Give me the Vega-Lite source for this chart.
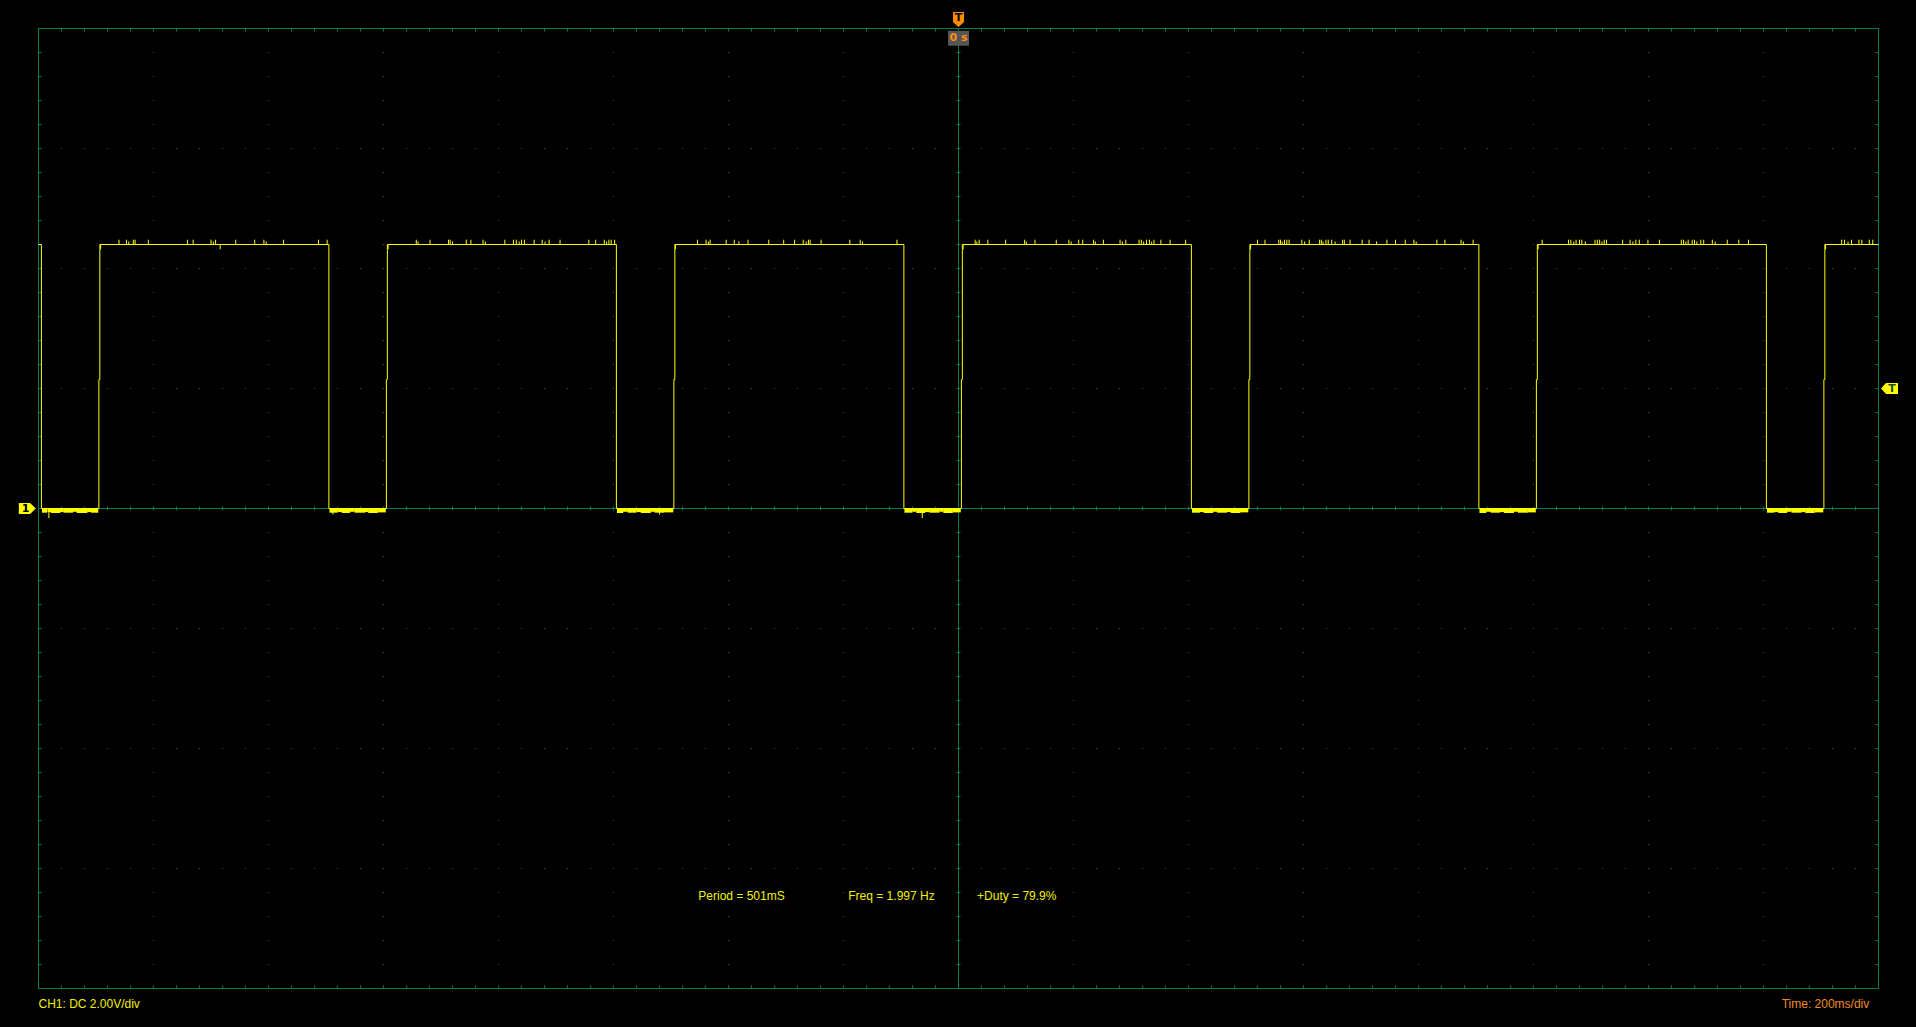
{
  "$schema": "https://vega.github.io/schema/vega-lite/v6.json",
  "width": 1840,
  "height": 960,
  "autosize": {"type": "none"},
  "padding": {"left": 38.5, "top": 28.5, "right": 37.5, "bottom": 38.5},
  "background": "#000000",
  "config": {
    "view": {"stroke": null},
    "axis": {"translate": 0, "domainColor": "#00795a", "tickColor": "#00795a", "gridColor": "#00795a", "domainWidth": 1, "tickWidth": 1, "gridWidth": 1, "gridOpacity": 1, "domainOpacity": 1, "tickOpacity": 1, "labels": false, "domainCap": "butt"}
  },
  "datasets": {
    "trace": [
      {"n":1,"t":-1.6,"v":4.4},{"n":2,"t":-1.595,"v":4.4},{"n":3,"t":-1.595,"v":0},{"n":4,"t":-1.495,"v":0},{"n":5,"t":-1.495,"v":2.15},{"n":6,"t":-1.4933,"v":2.15},{"n":7,"t":-1.4933,"v":4.4},
      {"n":8,"t":-1.095,"v":4.4},{"n":9,"t":-1.095,"v":0},{"n":10,"t":-0.995,"v":0},{"n":11,"t":-0.995,"v":2.15},{"n":12,"t":-0.9933,"v":2.15},{"n":13,"t":-0.9933,"v":4.4},
      {"n":14,"t":-0.595,"v":4.4},{"n":15,"t":-0.595,"v":0},{"n":16,"t":-0.495,"v":0},{"n":17,"t":-0.495,"v":2.15},{"n":18,"t":-0.4933,"v":2.15},{"n":19,"t":-0.4933,"v":4.4},
      {"n":20,"t":-0.095,"v":4.4},{"n":21,"t":-0.095,"v":0},{"n":22,"t":0.005,"v":0},{"n":23,"t":0.005,"v":2.15},{"n":24,"t":0.0067,"v":2.15},{"n":25,"t":0.0067,"v":4.4},
      {"n":26,"t":0.405,"v":4.4},{"n":27,"t":0.405,"v":0},{"n":28,"t":0.505,"v":0},{"n":29,"t":0.505,"v":2.15},{"n":30,"t":0.5067,"v":2.15},{"n":31,"t":0.5067,"v":4.4},
      {"n":32,"t":0.905,"v":4.4},{"n":33,"t":0.905,"v":0},{"n":34,"t":1.005,"v":0},{"n":35,"t":1.005,"v":2.15},{"n":36,"t":1.0067,"v":2.15},{"n":37,"t":1.0067,"v":4.4},
      {"n":38,"t":1.405,"v":4.4},{"n":39,"t":1.405,"v":0},{"n":40,"t":1.505,"v":0},{"n":41,"t":1.505,"v":2.15},{"n":42,"t":1.5067,"v":2.15},{"n":43,"t":1.5067,"v":4.4},{"n":44,"t":1.6,"v":4.4}
    ],
    "spikes": [
      {"t":-1.460,"h":4.48},{"t":-1.447,"h":4.48},{"t":-1.443,"h":4.45},{"t":-1.435,"h":4.48},{"t":-1.432,"h":4.48},{"t":-1.409,"h":4.48},{"t":-1.341,"h":4.48},{"t":-1.331,"h":4.48},{"t":-1.300,"h":4.48},{"t":-1.296,"h":4.45},{"t":-1.292,"h":4.48},{"t":-1.257,"h":4.48},{"t":-1.224,"h":4.48},{"t":-1.208,"h":4.48},{"t":-1.204,"h":4.45},{"t":-1.174,"h":4.48},{"t":-1.113,"h":4.48},{"t":-1.098,"h":4.48},
      {"t":-0.943,"h":4.48},{"t":-0.940,"h":4.45},{"t":-0.919,"h":4.48},{"t":-0.887,"h":4.48},{"t":-0.884,"h":4.48},{"t":-0.880,"h":4.45},{"t":-0.856,"h":4.48},{"t":-0.848,"h":4.48},{"t":-0.827,"h":4.48},{"t":-0.823,"h":4.45},{"t":-0.789,"h":4.48},{"t":-0.774,"h":4.48},{"t":-0.769,"h":4.48},{"t":-0.764,"h":4.45},{"t":-0.760,"h":4.48},{"t":-0.755,"h":4.48},{"t":-0.738,"h":4.48},{"t":-0.724,"h":4.48},{"t":-0.719,"h":4.45},{"t":-0.712,"h":4.48},{"t":-0.693,"h":4.48},{"t":-0.643,"h":4.48},{"t":-0.631,"h":4.48},{"t":-0.616,"h":4.48},{"t":-0.612,"h":4.45},{"t":-0.608,"h":4.48},{"t":-0.604,"h":4.48},{"t":-0.598,"h":4.48},
      {"t":-0.454,"h":4.48},{"t":-0.439,"h":4.48},{"t":-0.435,"h":4.45},{"t":-0.432,"h":4.48},{"t":-0.404,"h":4.48},{"t":-0.390,"h":4.48},{"t":-0.382,"h":4.45},{"t":-0.366,"h":4.48},{"t":-0.330,"h":4.48},{"t":-0.304,"h":4.48},{"t":-0.285,"h":4.48},{"t":-0.270,"h":4.48},{"t":-0.265,"h":4.45},{"t":-0.261,"h":4.48},{"t":-0.258,"h":4.48},{"t":-0.239,"h":4.48},{"t":-0.189,"h":4.48},{"t":-0.171,"h":4.48},{"t":-0.167,"h":4.45},{"t":-0.107,"h":4.48},
      {"t":0.029,"h":4.48},{"t":0.032,"h":4.45},{"t":0.036,"h":4.48},{"t":0.051,"h":4.48},{"t":0.082,"h":4.48},{"t":0.115,"h":4.48},{"t":0.118,"h":4.45},{"t":0.133,"h":4.48},{"t":0.170,"h":4.48},{"t":0.192,"h":4.48},{"t":0.196,"h":4.45},{"t":0.209,"h":4.48},{"t":0.216,"h":4.48},{"t":0.235,"h":4.48},{"t":0.238,"h":4.45},{"t":0.252,"h":4.48},{"t":0.281,"h":4.48},{"t":0.285,"h":4.45},{"t":0.291,"h":4.48},{"t":0.314,"h":4.48},{"t":0.318,"h":4.48},{"t":0.322,"h":4.45},{"t":0.327,"h":4.48},{"t":0.332,"h":4.48},{"t":0.336,"h":4.45},{"t":0.340,"h":4.48},{"t":0.352,"h":4.48},{"t":0.368,"h":4.48},{"t":0.395,"h":4.48},
      {"t":0.520,"h":4.48},{"t":0.533,"h":4.48},{"t":0.557,"h":4.48},{"t":0.560,"h":4.48},{"t":0.563,"h":4.45},{"t":0.567,"h":4.48},{"t":0.571,"h":4.48},{"t":0.575,"h":4.48},{"t":0.597,"h":4.48},{"t":0.602,"h":4.45},{"t":0.610,"h":4.48},{"t":0.628,"h":4.48},{"t":0.631,"h":4.48},{"t":0.634,"h":4.45},{"t":0.639,"h":4.48},{"t":0.643,"h":4.48},{"t":0.649,"h":4.48},{"t":0.655,"h":4.45},{"t":0.668,"h":4.48},{"t":0.671,"h":4.48},{"t":0.681,"h":4.48},{"t":0.702,"h":4.48},{"t":0.714,"h":4.48},{"t":0.727,"h":4.45},{"t":0.745,"h":4.48},{"t":0.760,"h":4.48},{"t":0.777,"h":4.48},{"t":0.792,"h":4.48},{"t":0.796,"h":4.45},{"t":0.832,"h":4.48},{"t":0.846,"h":4.48},{"t":0.874,"h":4.48},{"t":0.878,"h":4.45},{"t":0.895,"h":4.48},
      {"t":1.015,"h":4.48},{"t":1.061,"h":4.48},{"t":1.065,"h":4.48},{"t":1.070,"h":4.45},{"t":1.074,"h":4.48},{"t":1.080,"h":4.48},{"t":1.084,"h":4.48},{"t":1.090,"h":4.45},{"t":1.107,"h":4.48},{"t":1.111,"h":4.48},{"t":1.115,"h":4.48},{"t":1.119,"h":4.45},{"t":1.123,"h":4.48},{"t":1.127,"h":4.48},{"t":1.155,"h":4.48},{"t":1.168,"h":4.48},{"t":1.173,"h":4.45},{"t":1.178,"h":4.48},{"t":1.184,"h":4.48},{"t":1.199,"h":4.48},{"t":1.219,"h":4.48},{"t":1.257,"h":4.48},{"t":1.261,"h":4.48},{"t":1.265,"h":4.45},{"t":1.269,"h":4.48},{"t":1.276,"h":4.48},{"t":1.280,"h":4.48},{"t":1.284,"h":4.45},{"t":1.291,"h":4.48},{"t":1.296,"h":4.48},{"t":1.311,"h":4.48},{"t":1.316,"h":4.45},{"t":1.337,"h":4.48},{"t":1.357,"h":4.48},{"t":1.374,"h":4.48},
      {"t":1.536,"h":4.48},{"t":1.541,"h":4.48},{"t":1.547,"h":4.45},{"t":1.553,"h":4.48},{"t":1.566,"h":4.48},{"t":1.571,"h":4.48},{"t":1.584,"h":4.48},{"t":1.590,"h":4.48}
    ],
    "noise": [
      {"t0":-1.594,"t1":-1.585,"lo":-0.07},{"t0":-1.5845,"t1":-1.578,"lo":-0.06},{"t0":-1.5785,"t1":-1.562,"lo":-0.075},{"t0":-1.5625,"t1":-1.556,"lo":-0.06},{"t0":-1.5565,"t1":-1.540,"lo":-0.07},{"t0":-1.5405,"t1":-1.533,"lo":-0.055},{"t0":-1.5335,"t1":-1.515,"lo":-0.075},{"t0":-1.5155,"t1":-1.508,"lo":-0.06},{"t0":-1.5085,"t1":-1.496,"lo":-0.07},
      {"t0":-1.094,"t1":-1.080,"lo":-0.07},{"t0":-1.0805,"t1":-1.072,"lo":-0.06},{"t0":-1.0725,"t1":-1.058,"lo":-0.075},{"t0":-1.0585,"t1":-1.050,"lo":-0.055},{"t0":-1.0505,"t1":-1.032,"lo":-0.07},{"t0":-1.0325,"t1":-1.026,"lo":-0.06},{"t0":-1.0265,"t1":-1.010,"lo":-0.075},{"t0":-1.0105,"t1":-0.996,"lo":-0.065},
      {"t0":-0.594,"t1":-0.583,"lo":-0.075},{"t0":-0.5835,"t1":-0.575,"lo":-0.055},{"t0":-0.5755,"t1":-0.560,"lo":-0.07},{"t0":-0.5605,"t1":-0.552,"lo":-0.06},{"t0":-0.5525,"t1":-0.535,"lo":-0.075},{"t0":-0.5355,"t1":-0.528,"lo":-0.055},{"t0":-0.5285,"t1":-0.512,"lo":-0.07},{"t0":-0.5125,"t1":-0.496,"lo":-0.065},
      {"t0":-0.094,"t1":-0.080,"lo":-0.07},{"t0":-0.0805,"t1":-0.073,"lo":-0.055},{"t0":-0.0735,"t1":-0.058,"lo":-0.075},{"t0":-0.0585,"t1":-0.050,"lo":-0.06},{"t0":-0.0505,"t1":-0.033,"lo":-0.07},{"t0":-0.0335,"t1":-0.026,"lo":-0.055},{"t0":-0.0265,"t1":-0.010,"lo":-0.075},{"t0":-0.0105,"t1":0.004,"lo":-0.065},
      {"t0":0.406,"t1":0.420,"lo":-0.07},{"t0":0.4195,"t1":0.427,"lo":-0.06},{"t0":0.4265,"t1":0.443,"lo":-0.075},{"t0":0.4425,"t1":0.450,"lo":-0.055},{"t0":0.4495,"t1":0.467,"lo":-0.07},{"t0":0.4665,"t1":0.474,"lo":-0.06},{"t0":0.4735,"t1":0.490,"lo":-0.075},{"t0":0.4895,"t1":0.504,"lo":-0.065},
      {"t0":0.906,"t1":0.918,"lo":-0.075},{"t0":0.9175,"t1":0.926,"lo":-0.055},{"t0":0.9255,"t1":0.942,"lo":-0.07},{"t0":0.9415,"t1":0.949,"lo":-0.06},{"t0":0.9485,"t1":0.966,"lo":-0.075},{"t0":0.9655,"t1":0.973,"lo":-0.055},{"t0":0.9725,"t1":0.990,"lo":-0.07},{"t0":0.9895,"t1":1.004,"lo":-0.065},
      {"t0":1.406,"t1":1.419,"lo":-0.07},{"t0":1.4185,"t1":1.426,"lo":-0.06},{"t0":1.4255,"t1":1.441,"lo":-0.075},{"t0":1.4405,"t1":1.449,"lo":-0.055},{"t0":1.4485,"t1":1.466,"lo":-0.07},{"t0":1.4655,"t1":1.473,"lo":-0.06},{"t0":1.4725,"t1":1.489,"lo":-0.075},{"t0":1.4885,"t1":1.504,"lo":-0.065}
    ],
    "dips": [
      {"t":-1.492,"a":4.4,"b":4.32},{"t":-0.992,"a":4.4,"b":4.32},{"t":-0.492,"a":4.4,"b":4.32},{"t":0.008,"a":4.4,"b":4.32},{"t":0.508,"a":4.4,"b":4.32},{"t":1.008,"a":4.4,"b":4.32},{"t":1.508,"a":4.4,"b":4.32},
      {"t":-1.284,"a":4.4,"b":4.32},
      {"t":-1.582,"a":0,"b":-0.16},{"t":-1.088,"a":0,"b":-0.1},{"t":-0.520,"a":0,"b":-0.1},{"t":-0.063,"a":0,"b":-0.16}
    ],
    "notes": [
      {"side":"L","t":-1.6,"v":-8.325,"text":"CH1: DC 2.00V/div"},
      {"side":"L","t":-0.4525,"v":-6.517,"text":"Period = 501mS"},
      {"side":"L","t":-0.1917,"v":-6.517,"text":"Freq = 1.997 Hz"},
      {"side":"L","t":0.0323,"v":-6.517,"text":"+Duty = 79.9%"},
      {"side":"R","t":1.584,"v":-8.325,"text":"Time: 200ms/div"}
    ],
    "markers": [
      {"m":"trig","t":0,"v":8.15},
      {"m":"time","t":0,"v":7.837},
      {"m":"level","t":1.6191,"v":2.0},
      {"m":"ch1","t":-1.6195,"v":0}
    ],
    "markerText": [
      {"k":"trigT","t":0,"v":8.18,"text":"T"},
      {"k":"timeT","t":0,"v":7.837,"text":"0 s"},
      {"k":"levelT","t":1.6235,"v":2.0,"text":"T"},
      {"k":"ch1T","t":-1.6226,"v":0,"text":"1"}
    ]
  },
  "resolve": {"axis": {"x": "independent", "y": "independent"}, "scale": {"color": "independent", "shape": "independent"}},
  "layer": [
    {
      "data": {"name": "trace"},
      "mark": {"type": "line", "color": "#ffff00", "strokeWidth": 1},
      "encoding": {
        "x": {"field": "t", "type": "quantitative", "scale": {"domain": [-1.6, 1.6], "nice": false, "zero": false},
              "axis": {"orient": "bottom", "values": [-1.6,-1.4,-1.2,-1,-0.8,-0.6,-0.4,-0.2,0,0.2,0.4,0.6,0.8,1,1.2,1.4,1.6], "grid": true, "gridDash": [1,23], "gridDashOffset": 0.5, "ticks": false, "domain": false, "labels": false, "title": null}},
        "y": {"field": "v", "type": "quantitative", "scale": {"domain": [-8, 8], "nice": false, "zero": false},
              "axis": {"orient": "left", "values": [-8,-6,-4,-2,0,2,4,6,8], "grid": true, "gridDash": [1,22], "gridDashOffset": 0.5, "ticks": false, "domain": false, "labels": false, "title": null}},
        "order": {"field": "n", "type": "quantitative"}
      }
    },
    {
      "data": {"name": "spikes"},
      "mark": {"type": "rule", "color": "#ffff00", "strokeWidth": 1},
      "encoding": {
        "x": {"field": "t", "type": "quantitative", "scale": {"domain": [-1.6, 1.6], "nice": false, "zero": false},
              "axis": {"orient": "bottom", "values": [-1.6,-1.56,-1.52,-1.48,-1.44,-1.4,-1.36,-1.32,-1.28,-1.24,-1.2,-1.16,-1.12,-1.08,-1.04,-1,-0.96,-0.92,-0.88,-0.84,-0.8,-0.76,-0.72,-0.68,-0.64,-0.6,-0.56,-0.52,-0.48,-0.44,-0.4,-0.36,-0.32,-0.28,-0.24,-0.2,-0.16,-0.12,-0.08,-0.04,0,0.04,0.08,0.12,0.16,0.2,0.24,0.28,0.32,0.36,0.4,0.44,0.48,0.52,0.56,0.6,0.64,0.68,0.72,0.76,0.8,0.84,0.88,0.92,0.96,1,1.04,1.08,1.12,1.16,1.2,1.24,1.28,1.32,1.36,1.4,1.44,1.48,1.52,1.56,1.6], "grid": false, "ticks": true, "tickSize": -3, "domain": true, "labels": false, "title": null}},
        "y": {"field": "h", "type": "quantitative", "scale": {"domain": [-8, 8], "nice": false, "zero": false},
              "axis": {"orient": "left", "values": [-8,-7.6,-7.2,-6.8,-6.4,-6,-5.6,-5.2,-4.8,-4.4,-4,-3.6,-3.2,-2.8,-2.4,-2,-1.6,-1.2,-0.8,-0.4,0,0.4,0.8,1.2,1.6,2,2.4,2.8,3.2,3.6,4,4.4,4.8,5.2,5.6,6,6.4,6.8,7.2,7.6,8], "grid": false, "ticks": true, "tickSize": -3, "domain": true, "labels": false, "title": null}},
        "y2": {"datum": 4.4}
      }
    },
    {
      "data": {"name": "noise"},
      "mark": {"type": "rect", "color": "#ffff00"},
      "encoding": {
        "x": {"field": "t0", "type": "quantitative", "scale": {"domain": [-1.6, 1.6], "nice": false, "zero": false},
              "axis": {"orient": "top", "values": [-1.6,-1.56,-1.52,-1.48,-1.44,-1.4,-1.36,-1.32,-1.28,-1.24,-1.2,-1.16,-1.12,-1.08,-1.04,-1,-0.96,-0.92,-0.88,-0.84,-0.8,-0.76,-0.72,-0.68,-0.64,-0.6,-0.56,-0.52,-0.48,-0.44,-0.4,-0.36,-0.32,-0.28,-0.24,-0.2,-0.16,-0.12,-0.08,-0.04,0,0.04,0.08,0.12,0.16,0.2,0.24,0.28,0.32,0.36,0.4,0.44,0.48,0.52,0.56,0.6,0.64,0.68,0.72,0.76,0.8,0.84,0.88,0.92,0.96,1,1.04,1.08,1.12,1.16,1.2,1.24,1.28,1.32,1.36,1.4,1.44,1.48,1.52,1.56,1.6], "grid": false, "ticks": true, "tickSize": -3, "domain": true, "labels": false, "title": null}},
        "x2": {"field": "t1"},
        "y": {"field": "lo", "type": "quantitative", "scale": {"domain": [-8, 8], "nice": false, "zero": false},
              "axis": {"orient": "right", "values": [-8,-7.6,-7.2,-6.8,-6.4,-6,-5.6,-5.2,-4.8,-4.4,-4,-3.6,-3.2,-2.8,-2.4,-2,-1.6,-1.2,-0.8,-0.4,0,0.4,0.8,1.2,1.6,2,2.4,2.8,3.2,3.6,4,4.4,4.8,5.2,5.6,6,6.4,6.8,7.2,7.6,8], "grid": false, "ticks": true, "tickSize": -3, "domain": true, "labels": false, "title": null}},
        "y2": {"datum": 0}
      }
    },
    {
      "data": {"name": "dips"},
      "mark": {"type": "rule", "color": "#ffff00", "strokeWidth": 1},
      "encoding": {
        "x": {"field": "t", "type": "quantitative", "scale": {"domain": [-1.6, 1.6], "nice": false, "zero": false},
              "axis": {"orient": "bottom", "offset": -480, "values": [-1.6,-1.56,-1.52,-1.48,-1.44,-1.4,-1.36,-1.32,-1.28,-1.24,-1.2,-1.16,-1.12,-1.08,-1.04,-1,-0.96,-0.92,-0.88,-0.84,-0.8,-0.76,-0.72,-0.68,-0.64,-0.6,-0.56,-0.52,-0.48,-0.44,-0.4,-0.36,-0.32,-0.28,-0.24,-0.2,-0.16,-0.12,-0.08,-0.04,0,0.04,0.08,0.12,0.16,0.2,0.24,0.28,0.32,0.36,0.4,0.44,0.48,0.52,0.56,0.6,0.64,0.68,0.72,0.76,0.8,0.84,0.88,0.92,0.96,1,1.04,1.08,1.12,1.16,1.2,1.24,1.28,1.32,1.36,1.4,1.44,1.48,1.52,1.56,1.6], "grid": false, "ticks": true, "tickSize": 2, "domain": true, "labels": false, "title": null}},
        "y": {"field": "a", "type": "quantitative", "scale": {"domain": [-8, 8], "nice": false, "zero": false},
              "axis": {"orient": "left", "offset": -920, "values": [-8,-7.6,-7.2,-6.8,-6.4,-6,-5.6,-5.2,-4.8,-4.4,-4,-3.6,-3.2,-2.8,-2.4,-2,-1.6,-1.2,-0.8,-0.4,0,0.4,0.8,1.2,1.6,2,2.4,2.8,3.2,3.6,4,4.4,4.8,5.2,5.6,6,6.4,6.8,7.2,7.6,8], "grid": false, "ticks": true, "tickSize": 2, "domain": true, "labels": false, "title": null}},
        "y2": {"field": "b"}
      }
    },
    {
      "data": {"name": "notes"},
      "transform": [{"filter": "datum.side == 'L'"}],
      "mark": {"type": "text", "align": "left", "baseline": "alphabetic", "font": "Liberation Sans", "fontSize": 12, "color": "#f0f000"},
      "encoding": {
        "x": {"field": "t", "type": "quantitative", "scale": {"domain": [-1.6, 1.6], "nice": false, "zero": false},
              "axis": {"orient": "top", "offset": -480, "values": [-1.6,-1.56,-1.52,-1.48,-1.44,-1.4,-1.36,-1.32,-1.28,-1.24,-1.2,-1.16,-1.12,-1.08,-1.04,-1,-0.96,-0.92,-0.88,-0.84,-0.8,-0.76,-0.72,-0.68,-0.64,-0.6,-0.56,-0.52,-0.48,-0.44,-0.4,-0.36,-0.32,-0.28,-0.24,-0.2,-0.16,-0.12,-0.08,-0.04,0,0.04,0.08,0.12,0.16,0.2,0.24,0.28,0.32,0.36,0.4,0.44,0.48,0.52,0.56,0.6,0.64,0.68,0.72,0.76,0.8,0.84,0.88,0.92,0.96,1,1.04,1.08,1.12,1.16,1.2,1.24,1.28,1.32,1.36,1.4,1.44,1.48,1.52,1.56,1.6], "grid": false, "ticks": true, "tickSize": 2, "domain": false, "labels": false, "title": null}},
        "y": {"field": "v", "type": "quantitative", "scale": {"domain": [-8, 8], "nice": false, "zero": false},
              "axis": {"orient": "right", "offset": -920, "values": [-8,-7.6,-7.2,-6.8,-6.4,-6,-5.6,-5.2,-4.8,-4.4,-4,-3.6,-3.2,-2.8,-2.4,-2,-1.6,-1.2,-0.8,-0.4,0,0.4,0.8,1.2,1.6,2,2.4,2.8,3.2,3.6,4,4.4,4.8,5.2,5.6,6,6.4,6.8,7.2,7.6,8], "grid": false, "ticks": true, "tickSize": 2, "domain": false, "labels": false, "title": null}},
        "text": {"field": "text"}
      }
    },
    {
      "data": {"name": "notes"},
      "transform": [{"filter": "datum.side == 'R'"}],
      "mark": {"type": "text", "align": "right", "baseline": "alphabetic", "font": "Liberation Sans", "fontSize": 12, "color": "#f08a24"},
      "encoding": {
        "x": {"field": "t", "type": "quantitative", "scale": {"domain": [-1.6, 1.6], "nice": false, "zero": false}, "axis": null},
        "y": {"field": "v", "type": "quantitative", "scale": {"domain": [-8, 8], "nice": false, "zero": false}, "axis": null},
        "text": {"field": "text"}
      }
    },
    {
      "data": {"name": "markers"},
      "mark": {"type": "point", "filled": true, "size": 289, "opacity": 1, "strokeWidth": 0},
      "encoding": {
        "x": {"field": "t", "type": "quantitative", "scale": {"domain": [-1.6, 1.6], "nice": false, "zero": false}, "axis": null},
        "y": {"field": "v", "type": "quantitative", "scale": {"domain": [-8, 8], "nice": false, "zero": false}, "axis": null},
        "shape": {"field": "m", "type": "nominal", "legend": null, "scale": {"domain": ["trig", "time", "level", "ch1"], "range": ["M-0.65,-0.88L0.65,-0.88L0.65,0.3L0.2,0.7L0,0.88L-0.2,0.7L-0.65,0.3Z", "M-1.24,-0.88L1.24,-0.88L1.24,0.88L-1.24,0.88Z", "M-1,0L-0.41,-0.65L1,-0.65L1,0.65L-0.41,0.65Z", "M-1,-0.65L0.33,-0.65L1,0L0.33,0.65L-1,0.65Z"]}},
        "color": {"field": "m", "type": "nominal", "legend": null, "scale": {"domain": ["trig", "time", "level", "ch1"], "range": ["#ff8c00", "#555555", "#ffff00", "#ffff00"]}}
      }
    },
    {
      "data": {"name": "markerText"},
      "mark": {"type": "text", "align": "center", "baseline": "middle", "font": "DejaVu Sans", "fontSize": 11, "fontWeight": "bold"},
      "encoding": {
        "x": {"field": "t", "type": "quantitative", "scale": {"domain": [-1.6, 1.6], "nice": false, "zero": false}, "axis": null},
        "y": {"field": "v", "type": "quantitative", "scale": {"domain": [-8, 8], "nice": false, "zero": false}, "axis": null},
        "text": {"field": "text"},
        "color": {"field": "k", "type": "nominal", "legend": null, "scale": {"domain": ["trigT", "timeT", "levelT", "ch1T"], "range": ["#000000", "#ff8c1a", "#1a4d2e", "#000000"]}}
      }
    }
  ]
}
